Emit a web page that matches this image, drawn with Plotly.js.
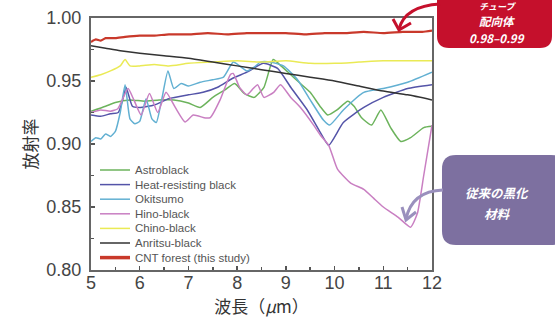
<!DOCTYPE html>
<html><head><meta charset="utf-8">
<script src="https://cdn.plot.ly/plotly-3.0.1.min.js"></script>
<style>html,body{margin:0;padding:0;background:#fff;}#chart{width:555px;height:324px;}</style>
</head><body><div id="chart"></div>
<script>
// ---- data ----
const astroX = [5,5.3,5.5,5.8,6.1,6.4,6.7,7.0,7.24,7.5,7.75,7.95,8.15,8.35,8.55,8.74,8.9,9.1,9.3,9.5,9.7,9.86,10.05,10.27,10.4,10.55,10.76,10.95,11.15,11.36,11.56,11.83,12];
const astroY = [0.926,0.930,0.933,0.935,0.934,0.935,0.935,0.9325,0.929,0.937,0.943,0.948,0.940,0.937,0.945,0.967,0.962,0.955,0.948,0.941,0.930,0.923,0.927,0.934,0.930,0.921,0.915,0.927,0.913,0.902,0.905,0.913,0.914];

const heatX = [5,5.2,5.4,5.56,5.65,5.72,5.85,6.0,6.3,6.6,7,7.3,7.6,7.9,8.2,8.54,8.83,9.1,9.44,9.71,9.88,10.18,10.6,11,11.5,12];
const heatY = [0.923,0.922,0.924,0.925,0.935,0.945,0.930,0.929,0.931,0.936,0.939,0.941,0.945,0.952,0.957,0.964,0.960,0.945,0.927,0.909,0.899,0.917,0.929,0.937,0.944,0.947];

const okiX = [5,5.1,5.2,5.3,5.4,5.5,5.6,5.7,5.8,5.9,6.0,6.13,6.25,6.34,6.45,6.58,6.7,6.85,7,7.24,7.5,7.72,7.92,8.05,8.2,8.35,8.48,8.68,8.95,9.24,9.5,9.77,9.9,10.18,10.6,11,11.5,12];
const okiY = [0.902,0.905,0.904,0.908,0.906,0.910,0.925,0.947,0.920,0.916,0.918,0.936,0.920,0.917,0.935,0.958,0.944,0.948,0.946,0.949,0.951,0.953,0.965,0.962,0.958,0.961,0.965,0.965,0.962,0.951,0.935,0.919,0.915,0.927,0.941,0.944,0.949,0.957];

const hinoX = [5,5.2,5.4,5.55,5.76,5.88,6.03,6.2,6.37,6.54,6.73,6.93,7.1,7.35,7.45,7.65,7.86,7.92,8.05,8.2,8.33,8.42,8.55,8.75,8.89,9.1,9.3,9.57,9.71,9.88,10.06,10.33,10.6,10.8,11.0,11.3,11.56,11.7,11.83,12];
const hinoY = [0.925,0.927,0.926,0.928,0.944,0.935,0.923,0.940,0.925,0.941,0.929,0.9175,0.923,0.9206,0.921,0.935,0.955,0.956,0.945,0.939,0.944,0.947,0.937,0.941,0.947,0.937,0.929,0.915,0.907,0.899,0.880,0.869,0.864,0.857,0.850,0.842,0.834,0.845,0.875,0.915];

const chinoX = [5,5.2,5.4,5.6,5.7,5.8,6,6.3,6.6,7,7.5,8,8.5,9,9.5,10,10.5,11,11.5,12];
const chinoY = [0.953,0.955,0.958,0.962,0.967,0.962,0.962,0.963,0.962,0.964,0.965,0.966,0.965,0.966,0.964,0.964,0.965,0.966,0.966,0.966];

const anriX = [5,5.3,5.6,6,6.5,7,7.5,8,8.5,9,9.5,10,10.5,11,11.5,12];
const anriY = [0.978,0.976,0.974,0.972,0.970,0.968,0.965,0.962,0.959,0.956,0.953,0.950,0.946,0.942,0.939,0.935];

const cntX = [5,5.1,5.2,5.3,5.5,5.7,6,6.3,6.6,7,7.4,7.8,8.2,8.6,9,9.4,9.8,10.2,10.6,11,11.4,11.8,12];
const cntY = [0.981,0.983,0.982,0.984,0.984,0.985,0.986,0.986,0.987,0.987,0.988,0.987,0.988,0.988,0.988,0.987,0.988,0.988,0.989,0.988,0.989,0.989,0.990];

const seriesNames = ['Astroblack','Heat-resisting black','Okitsumo','Hino-black','Chino-black','Anritsu-black','CNT forest (this study)'];
const xTickVals = [5,6,7,8,9,10,11,12];
const yTickVals = [0.80,0.85,0.90,0.95,1.00];
const yTickText = ['0.80','0.85','0.90','0.95','1.00'];
const xTitle = '波長（<i>μ</i>m）';
const yTitle = '放射率';
const redBoxLines = ['チューブ','配向体','0.98–0.99'];
const purpleBoxLines = ['従来の黒化','材料'];

// ---- styles ----
const colors = ['#6cb35c','#5454a8','#62b0d2','#c97fc2','#eaea55','#333333','#c9392b'];
const widths = [1.5,1.5,1.5,1.5,1.5,1.5,2.2];
const xs = [astroX,heatX,okiX,hinoX,chinoX,anriX,cntX];
const ys = [astroY,heatY,okiY,hinoY,chinoY,anriY,cntY];

const traces = seriesNames.map((n,i)=>({
  type:'scatter', mode:'lines', name:n, x:xs[i], y:ys[i],
  line:{color:colors[i], width:widths[i], shape:'spline', smoothing:0.5}, showlegend:false, hoverinfo:'skip'
}));

// pixel -> paper helpers
const L=91,R=432,T=18,B=270;
const px = x => (x-L)/(R-L);
const py = y => (B-y)/(B-T);
function P(x,y){return px(x).toFixed(4)+','+py(y).toFixed(4);}
function rrect(x0,y0,x1,y1,r){
  return 'M'+P(x0+r,y0)+' L'+P(x1-r,y0)+' Q'+P(x1,y0)+' '+P(x1,y0+r)+
    ' L'+P(x1,y1-r)+' Q'+P(x1,y1)+' '+P(x1-r,y1)+' L'+P(x0+r,y1)+
    ' Q'+P(x0,y1)+' '+P(x0,y1-r)+' L'+P(x0,y0+r)+' Q'+P(x0,y0)+' '+P(x0+r,y0)+' Z';
}

const shapes = [];
const annotations = [];
// custom legend (compact spacing as in the reference)
seriesNames.forEach((n,i)=>{
  const yy = 170 + i*14.6;
  shapes.push({type:'line', xref:'paper', yref:'paper', x0:px(100), x1:px(130), y0:py(yy), y1:py(yy),
    line:{color:colors[i], width: i===6?3.5:1.5}});
  annotations.push({xref:'paper', yref:'paper', x:px(133), y:py(yy), xanchor:'left', yanchor:'middle',
    text:n, showarrow:false, font:{family:'Liberation Sans, Arial', size:11.5, color:'#555'}});
});

// red callout
shapes.push({type:'path', xref:'paper', yref:'paper', path:rrect(437,-20,552,48,12),
  fillcolor:'#c5102c', line:{width:0}, layer:'above'});
shapes.push({type:'path', xref:'paper', yref:'paper', path:'M'+P(440,4)+' Q'+P(405,6)+' '+P(399,29),
  line:{color:'#c5102c', width:3}, layer:'above'});
shapes.push({type:'path', xref:'paper', yref:'paper', path:'M'+P(393,19)+' L'+P(399,30)+' L'+P(411,23),
  line:{color:'#c5102c', width:3}, layer:'above'});
const redY = [6.5,21,38];
const redSize = [9,11.5,11.5];
redBoxLines.forEach((t,i)=>annotations.push({xref:'paper', yref:'paper', x:px(497), y:py(redY[i]),
  xanchor:'center', yanchor:'middle', text:'<b><i>'+t+'</i></b>', showarrow:false, borderpad:0,
  font:{family:'Noto Sans CJK JP', size:redSize[i], color:'#ffffff'}}));

// purple callout
shapes.push({type:'path', xref:'paper', yref:'paper', path:rrect(442,155,565,245,14),
  fillcolor:'#7d70a0', line:{width:0}, layer:'above'});
shapes.push({type:'path', xref:'paper', yref:'paper', path:'M'+P(443,190)+' Q'+P(412,191)+' '+P(406,219),
  line:{color:'#9a90bd', width:3}, layer:'above'});
shapes.push({type:'path', xref:'paper', yref:'paper', path:'M'+P(402,207)+' L'+P(406,220)+' L'+P(416,212),
  line:{color:'#9a90bd', width:3}, layer:'above'});
const purY = [192,213];
purpleBoxLines.forEach((t,i)=>annotations.push({xref:'paper', yref:'paper', x:px(497), y:py(purY[i]),
  xanchor:'center', yanchor:'middle', text:'<b><i>'+t+'</i></b>', showarrow:false, borderpad:0,
  font:{family:'Noto Sans CJK JP', size:12.5, color:'#ffffff'}}));

const axisFont = {family:'Liberation Sans, Arial', size:18, color:'#444'};
const layout = {
  width:555, height:324,
  margin:{l:L, r:555-R, t:T, b:324-B, pad:0},
  paper_bgcolor:'#ffffff', plot_bgcolor:'#ffffff',
  showlegend:false,
  xaxis:{range:[5,12], tickvals:xTickVals, ticks:'inside', ticklen:4, tickcolor:'#555', tickwidth:1.5,
    minor:{dtick:0.5, ticks:'inside', ticklen:3, tickcolor:'#555'},
    showgrid:false, zeroline:false, showline:true, mirror:true, linecolor:'#666', linewidth:2,
    tickfont:axisFont, ticklabelstandoff:-5,
    title:{text:xTitle, font:{family:'Noto Sans CJK JP', size:17, color:'#333'}, standoff:0}},
  yaxis:{range:[0.80,1.00], tickvals:yTickVals, ticktext:yTickText, ticks:'inside', ticklen:4, tickcolor:'#555', tickwidth:1.5,
    minor:{dtick:0.025, ticks:'inside', ticklen:3, tickcolor:'#555'},
    showgrid:false, zeroline:false, showline:true, mirror:true, linecolor:'#666', linewidth:2,
    tickfont:axisFont, ticklabelstandoff:4,
    title:{text:yTitle, font:{family:'Noto Sans CJK JP', size:17, color:'#333'}, standoff:4}},
  shapes:shapes, annotations:annotations
};
Plotly.newPlot('chart', traces, layout, {staticPlot:true, displayModeBar:false});
</script></body></html>
